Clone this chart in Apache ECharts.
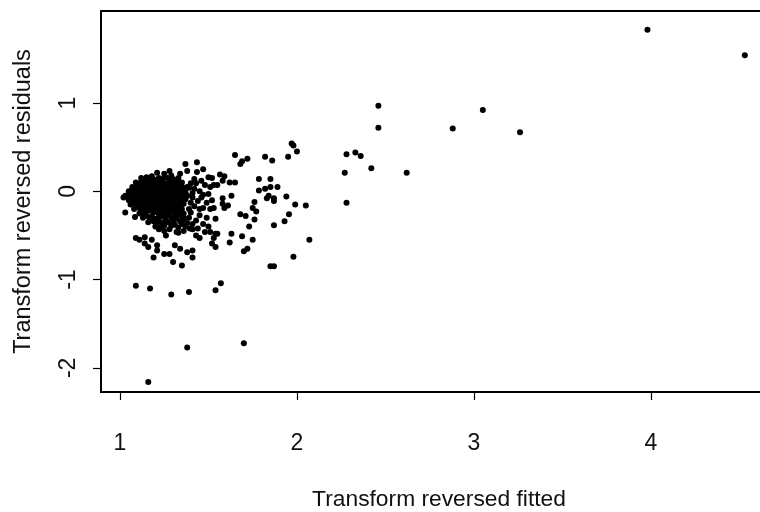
<!DOCTYPE html>
<html>
<head>
<meta charset="utf-8">
<script src="https://cdn.jsdelivr.net/npm/echarts@6/dist/echarts.min.js"></script>
<style>html,body{margin:0;padding:0;background:#fff}#c{width:760px;height:512px}</style>
</head>
<body>
<div id="c"></div>
<script>
const xTicks = [1, 2, 3, 4];
const yTicks = [-2, -1, 0, 1];
const xTitle = "Transform reversed fitted";
const yTitle = "Transform reversed residuals";

const outliers = [[3.98,1.83],[4.53,1.54],[2.46,0.97],[2.46,0.72],[2.88,0.71],[3.05,0.92],[3.26,0.67],[2.62,0.21],
[2.27,0.21],[2.28,0.42],[2.33,0.44],[2.36,0.40],[2.42,0.26],[2.28,-0.13],[1.38,-1.77],[1.70,-1.72],[1.16,-2.16],
[1.09,-1.07],[1.17,-1.10],[1.29,-1.17],[1.39,-1.14],[1.54,-1.12],[1.57,-1.04]];

const rightScatter = [[1.65,0.41],[1.72,0.37],[1.69,0.34],[1.68,0.31],[1.82,0.39],[1.86,0.35],[1.95,0.39],[1.97,0.54],[1.98,0.52],[2.0,0.45],
[1.785,0.14],[1.85,0.14],[1.785,0.01],[1.82,0.03],[1.85,0.05],[1.89,0.05],[1.83,-0.08],[1.84,-0.05],[1.87,-0.08],[1.87,-0.11],[1.94,-0.06],
[1.99,-0.15],[2.05,-0.16],[1.955,-0.26],[1.93,-0.34],[1.87,-0.385],[1.76,-0.12],[1.75,-0.19],[1.77,-0.23],[1.68,-0.26],[1.71,-0.28],[1.76,-0.32],
[1.73,-0.40],[1.63,-0.48],[1.69,-0.51],[1.62,-0.58],[1.75,-0.55],[1.72,-0.65],[1.70,-0.68],[2.07,-0.55],[1.98,-0.74],[1.85,-0.85],[1.87,-0.85]];

const midScatter = [[1.565,0.19],[1.59,0.17],[1.58,0.12],[1.62,0.10],[1.65,0.10],[1.52,0.15],[1.53,0.07],[1.55,0.07],[1.63,-0.05],[1.52,-0.10],[1.53,-0.19],
[1.58,-0.08],[1.58,-0.14],[1.61,-0.16],[1.59,-0.19],[1.54,-0.31],[1.54,-0.48],[1.53,-0.53],[1.52,-0.59],[1.54,-0.63],[1.51,-0.46],
[1.37,0.31],[1.435,0.33],[1.28,0.23],[1.34,0.20],[1.38,0.23],[1.435,0.22],[1.47,0.25],[1.43,0.09],[1.40,0.09],[1.51,0.05],[1.48,0.07],[1.50,0.16],
[1.42,0.03],[1.45,0.00],[1.47,-0.04],[1.41,-0.07],[1.44,-0.11],[1.49,-0.13],[1.47,-0.19],[1.42,-0.17],[1.40,-0.24],[1.45,-0.27],[1.49,-0.30],[1.43,-0.33],
[1.395,-0.42],[1.41,-0.43],[1.50,-0.40],[1.48,-0.46],[1.43,-0.50],[1.45,-0.53],[1.55,-0.48],[1.39,-0.30],[1.38,-0.36],
[1.39,-0.20],[1.40,-0.13],[1.41,-0.02],[1.39,0.04],[1.42,0.14],[1.46,0.12],[1.45,-0.20],[1.46,-0.07],[1.50,-0.03],[1.51,-0.20],[1.47,-0.37],[1.41,-0.37],[1.44,-0.42]];

const lowerScatter = [[1.02,-0.07],[1.03,-0.24],[1.085,-0.29],[1.09,-0.53],[1.14,-0.52],[1.11,-0.55],[1.16,-0.63],[1.14,-0.59],[1.21,-0.61],[1.21,-0.67],
[1.19,-0.75],[1.25,-0.71],[1.28,-0.71],[1.30,-0.80],[1.35,-0.84],[1.31,-0.61],[1.34,-0.65],[1.38,-0.69],[1.41,-0.67],[1.41,-0.75],[1.18,-0.55],[1.26,-0.50],[1.33,-0.47],
[1.36,-0.45]];

const coreCluster = [
[1.21,0.21],[1.25,0.20],[1.29,0.18],
[1.12,0.15],[1.15,0.16],[1.18,0.17],[1.22,0.15],[1.26,0.16],[1.30,0.14],[1.33,0.15],
[1.09,0.10],[1.12,0.11],[1.14,0.09],[1.17,0.12],[1.20,0.10],[1.23,0.11],[1.26,0.09],[1.29,0.10],[1.32,0.11],[1.35,0.10],
[1.07,0.05],[1.10,0.06],[1.12,0.04],[1.15,0.05],[1.18,0.06],[1.21,0.04],[1.24,0.06],[1.27,0.05],[1.30,0.04],[1.33,0.06],[1.36,0.04],[1.38,0.05],
[1.05,0.00],[1.08,0.01],[1.10,-0.01],[1.13,0.00],[1.16,0.01],[1.19,-0.01],[1.22,0.00],[1.25,0.01],[1.28,-0.01],[1.31,0.00],[1.34,0.01],[1.37,-0.01],
[1.03,-0.05],[1.06,-0.04],[1.09,-0.06],[1.12,-0.05],[1.14,-0.04],[1.17,-0.06],[1.20,-0.05],[1.23,-0.04],[1.26,-0.06],[1.29,-0.05],[1.32,-0.04],[1.35,-0.06],[1.38,-0.05],
[1.05,-0.10],[1.08,-0.11],[1.11,-0.09],[1.13,-0.10],[1.16,-0.11],[1.19,-0.09],[1.22,-0.10],[1.25,-0.11],[1.28,-0.09],[1.31,-0.10],[1.34,-0.11],[1.37,-0.09],
[1.06,-0.15],[1.09,-0.14],[1.12,-0.16],[1.15,-0.15],[1.18,-0.14],[1.21,-0.16],[1.24,-0.15],[1.27,-0.14],[1.30,-0.16],[1.33,-0.15],[1.36,-0.14],
[1.08,-0.20],[1.11,-0.19],[1.14,-0.21],[1.17,-0.20],[1.20,-0.19],[1.23,-0.21],[1.26,-0.20],[1.29,-0.19],[1.32,-0.21],[1.35,-0.20],
[1.11,-0.25],[1.14,-0.26],[1.19,-0.24],[1.22,-0.26],[1.25,-0.25],[1.28,-0.24],[1.33,-0.26],[1.36,-0.25],
[1.13,-0.30],[1.22,-0.31],[1.25,-0.29],[1.29,-0.30],[1.32,-0.31],[1.36,-0.30],
[1.16,-0.35],[1.19,-0.34],[1.24,-0.36],[1.27,-0.35],[1.34,-0.34],[1.37,-0.40],
[1.20,-0.40],[1.23,-0.41],[1.29,-0.39],[1.33,-0.41],
[1.25,-0.45],[1.32,-0.46]];

const coreFill = [
[1.14,0.13],[1.17,0.14],[1.20,0.13],[1.24,0.14],[1.28,0.12],[1.31,0.12],
[1.11,0.08],[1.13,0.07],[1.16,0.08],[1.19,0.08],[1.22,0.07],[1.25,0.08],[1.28,0.07],[1.31,0.08],[1.34,0.07],
[1.07,0.02],[1.09,0.03],[1.12,0.02],[1.14,0.03],[1.17,0.03],[1.20,0.02],[1.23,0.03],[1.26,0.03],[1.29,0.02],[1.32,0.03],[1.35,0.03],
[1.06,-0.02],[1.09,-0.02],[1.11,-0.03],[1.14,-0.02],[1.17,-0.03],[1.20,-0.02],[1.23,-0.02],[1.26,-0.03],[1.29,-0.03],[1.32,-0.02],[1.35,-0.03],
[1.05,-0.07],[1.07,-0.08],[1.10,-0.08],[1.13,-0.07],[1.15,-0.08],[1.18,-0.08],[1.21,-0.07],[1.24,-0.08],[1.27,-0.08],[1.30,-0.07],[1.33,-0.08],[1.36,-0.07],
[1.07,-0.13],[1.10,-0.12],[1.13,-0.13],[1.16,-0.13],[1.19,-0.12],[1.22,-0.13],[1.25,-0.13],[1.28,-0.12],[1.31,-0.13],[1.34,-0.13],
[1.10,-0.17],[1.13,-0.18],[1.16,-0.18],[1.19,-0.17],[1.22,-0.18],[1.25,-0.17],[1.28,-0.17],[1.31,-0.18],[1.34,-0.17],
[1.12,-0.23],[1.16,-0.22],[1.21,-0.23],[1.24,-0.23],[1.27,-0.22],[1.30,-0.23],[1.33,-0.23],
[1.23,-0.28],[1.27,-0.27],[1.31,-0.28],[1.35,-0.28],
[1.15,-0.28],[1.18,-0.28],[1.20,-0.31],[1.17,-0.32],[1.21,-0.36],[1.26,-0.33],[1.30,-0.34],[1.31,-0.38],[1.25,-0.39],[1.35,-0.37],[1.22,-0.43],[1.28,-0.43],[1.36,-0.32]];

const allPoints = [].concat(outliers, rightScatter, midScatter, lowerScatter, coreCluster, coreFill);

const chart = echarts.init(document.getElementById('c'), null, {renderer:'canvas'});
const font = '"Liberation Sans", Arial, sans-serif';
chart.setOption({
  animation:false,
  backgroundColor:'#fff',
  grid:{left:101, right:-5, top:11, bottom:120, show:true, borderColor:'#000', borderWidth:2, backgroundColor:'transparent', outerBoundsMode:'none'},
  xAxis:{
    type:'value', min:0.893, max:4.644,
    name:xTitle, nameLocation:'middle', nameGap:96,
    nameTextStyle:{fontFamily:font, fontSize:22.8, color:'#111', padding:[0,0,0,12]},
    axisLine:{show:true, onZero:false, lineStyle:{color:'#000', width:2}},
    axisTick:{show:true, length:8, customValues:xTicks, lineStyle:{color:'#000', width:1.2}},
    axisLabel:{show:true, customValues:xTicks, margin:40, fontFamily:font, fontSize:23, color:'#111', formatter:v=>String(v)},
    splitLine:{show:false}
  },
  yAxis:{
    type:'value', min:-2.273, max:2.042,
    name:yTitle, nameLocation:'middle', nameGap:65,
    nameTextStyle:{fontFamily:font, fontSize:23.5, color:'#111'},
    axisLine:{show:true, onZero:false, lineStyle:{color:'#000', width:2}},
    axisTick:{show:true, length:8, customValues:yTicks, lineStyle:{color:'#000', width:1.2}},
    axisLabel:{show:true, customValues:yTicks, margin:21, rotate:90, fontFamily:font, fontSize:23, color:'#111', formatter:v=>String(v)},
    splitLine:{show:false}
  },
  series:[{type:'scatter', data:allPoints, symbol:'circle', symbolSize:6, itemStyle:{color:'#000', opacity:1}, clip:true}]
});
</script>
</body>
</html>
